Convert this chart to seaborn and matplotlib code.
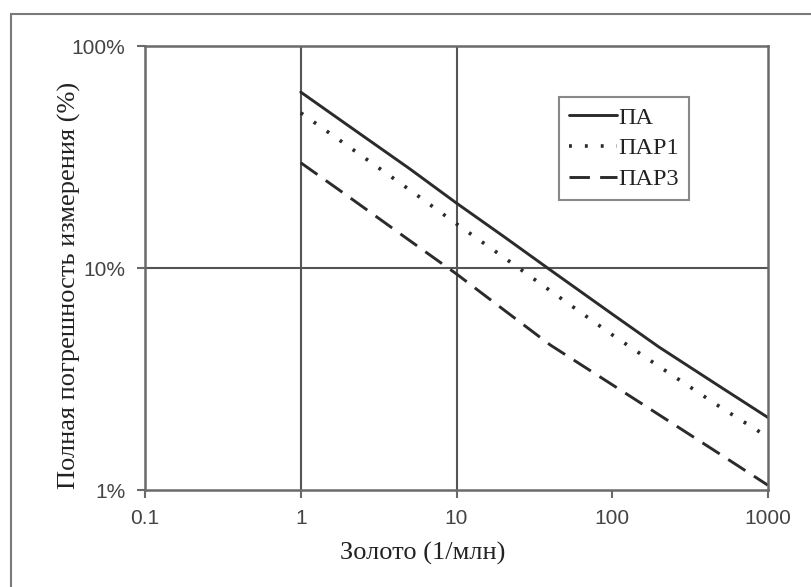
import matplotlib
matplotlib.use("Agg")
import matplotlib.pyplot as plt
import matplotlib.ticker as mticker
from matplotlib.patches import Rectangle
import seaborn as sns
import pandas as pd

# Data (percent error vs gold concentration)
gold = [1, 2, 5, 10, 20, 40, 100, 200, 500, 1000]
pa = [62, 44, 28, 19.6, 13.9, 9.8, 6.2, 4.4, 2.9, 2.12]
par1 = [50, 35.5, 22.5, 15.8, 11.2, 7.9, 5.0, 3.6, 2.35, 1.73]
par3 = [29.8, 21.1, 13.3, 9.4, 6.5, 4.5, 2.98, 2.18, 1.44, 1.05]
series_names = ["ПА", "ПАР1", "ПАР3"]
x_ticks = [0.1, 1, 10, 100, 1000]
x_ticklabels = ["0.1", "1", "10", "100", "1000"]
y_ticks = [1, 10, 100]
y_ticklabels = ["1%", "10%", "100%"]

sns.set_style("white")
plt.rcParams["font.family"] = ["Liberation Serif", "DejaVu Serif"]

W, H = 811, 587
fig = plt.figure(figsize=(W / 100, H / 100), dpi=100)
ax = fig.add_axes([145 / W, 1 - 490 / H, (768 - 145) / W, (490 - 46) / H])

line_col = "#2b2b2b"
styles = ["-", (0, (0.8, 3.6)), (0, (7, 3.5))]
widths = [2.1, 2.6, 2.1]
for name, vals, ls, lw in zip(series_names, [pa, par1, par3], styles, widths):
    df = pd.DataFrame({"x": gold, "y": vals})
    sns.lineplot(data=df, x="x", y="y", ax=ax, color=line_col, linewidth=lw,
                 linestyle=ls, label=name)

ax.set_xscale("log")
ax.set_yscale("log")
ax.set_xlim(0.1, 1000)
ax.set_ylim(1, 100)
ax.xaxis.set_major_locator(mticker.FixedLocator(x_ticks))
ax.xaxis.set_major_formatter(mticker.FixedFormatter(x_ticklabels))
ax.yaxis.set_major_locator(mticker.FixedLocator(y_ticks))
ax.yaxis.set_major_formatter(mticker.FixedFormatter(y_ticklabels))
ax.xaxis.set_minor_locator(mticker.NullLocator())
ax.yaxis.set_minor_locator(mticker.NullLocator())

grid_col = "#555555"
for gx in [1, 10]:
    ax.axvline(gx, color=grid_col, lw=1.5, zorder=0)
ax.axhline(10, color=grid_col, lw=1.5, zorder=0)

for sp in ax.spines.values():
    sp.set_color("#6a6a6a")
    sp.set_linewidth(1.8)

ax.tick_params(axis="both", which="major", direction="out", length=6, width=1.5,
               color="#6a6a6a", labelsize=15, labelcolor="#444444", pad=8,
               left=True, bottom=True)
for lab in ax.get_xticklabels() + ax.get_yticklabels():
    lab.set_family(["Liberation Sans", "DejaVu Sans"])

ax.set_xlabel("Золото (1/млн)", fontsize=19, color="#222222")
ax.set_ylabel("Полная погрешность измерения (%)", fontsize=19, color="#222222")
ax.xaxis.label.set_va("center")
ax.yaxis.label.set_va("center")
ax.xaxis.set_label_coords((423 - 145) / 623, (490 - 553) / 444)
ax.yaxis.set_label_coords((69 - 145) / 623, (490 - 285) / 444)

leg = ax.legend(loc="upper left", bbox_to_anchor=((559 - 145) / 623, 1 - (97 - 46) / 444),
                frameon=True, fancybox=False, fontsize=17.5, handlelength=2.0,
                handletextpad=0.05, borderpad=0.4, labelspacing=0.36,
                borderaxespad=0)
leg.get_frame().set_edgecolor("#6a6a6a")
leg.get_frame().set_linewidth(1.5)
for t in leg.get_texts():
    t.set_color("#222222")

fig.patches.append(Rectangle((11 / W, -0.1), 1.2, 1.1 - 14 / H, transform=fig.transFigure,
                             fill=False, edgecolor="#7a7a7a", linewidth=1.5, figure=fig))

fig.savefig("out.png", dpi=100, facecolor="white")
